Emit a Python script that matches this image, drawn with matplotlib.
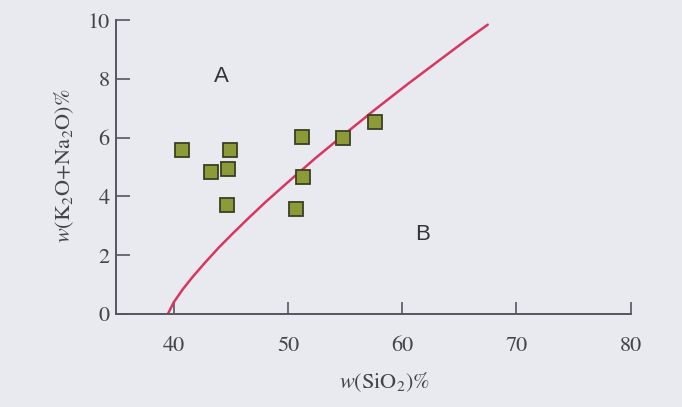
import matplotlib
matplotlib.use("Agg")
from matplotlib import pyplot as plt

# sample points: SiO2 vs K2O+Na2O
sio2 = [40.7, 44.9, 43.3, 44.8, 44.7, 51.2, 51.3, 50.7, 54.8, 57.6]
alk = [5.58, 5.58, 4.85, 4.94, 3.70, 6.03, 4.65, 3.58, 6.00, 6.54]

# dividing curve
curve_x = [39.5, 40.0, 40.8, 41.7, 42.8, 44.0, 45.2, 46.6, 48.1, 50.1,
           52.4, 54.8, 57.6, 60.5, 63.1, 65.5, 67.5]
curve_y = [0.0, 0.39, 0.84, 1.28, 1.77, 2.28, 2.75, 3.28, 3.83, 4.52,
           5.30, 6.07, 6.95, 7.83, 8.59, 9.29, 9.85]

xticks = [40, 50, 60, 70, 80]
yticks = [0, 2, 4, 6, 8, 10]

bg = "#e9eaf0"
axcol = "#55565e"
txtcol = "#444448"
plt.rcParams["mathtext.fontset"] = "stix"

fig = plt.figure(figsize=(6.82, 4.07), dpi=100, facecolor=bg)
ax = fig.add_axes([0.1708, 0.2285, 0.7588, 0.729])
ax.set_facecolor(bg)

ax.plot(curve_x, curve_y, color="#d9365f", lw=1.8, solid_capstyle="round",
        solid_joinstyle="round", zorder=2)
ax.plot(sio2, alk, ls="none", marker="s", ms=9.5, mfc="#8c9b38",
        mec="#3b3f22", mew=1.3, zorder=3)

ax.text(44.15, 8.1, "A", fontsize=16, color="#333338", ha="center", va="center",
        family="Liberation Sans")
ax.text(61.75, 2.7, "B", fontsize=16, color="#333338", ha="center", va="center",
        family="Liberation Sans")

ax.set_xlim(35, 80.3)
ax.set_ylim(0, 10.1)
for s in ["top", "right"]:
    ax.spines[s].set_visible(False)
ax.spines["left"].set_bounds(0, 10)
ax.spines["bottom"].set_bounds(35, 80)
for s in ["left", "bottom"]:
    ax.spines[s].set_color(axcol)
    ax.spines[s].set_linewidth(1.4)

ax.set_xticks(xticks)
ax.set_yticks(yticks)
ax.tick_params(axis="x", direction="in", length=9, width=1.2, color=axcol,
               pad=16, labelsize=16, labelcolor=txtcol)
ax.tick_params(axis="y", direction="in", length=10, width=1.2, color=axcol,
               pad=5, labelsize=16, labelcolor=txtcol)
for lab in ax.get_xticklabels() + ax.get_yticklabels():
    lab.set_family("STIXGeneral")

ax.set_xlabel(r"$w(\mathrm{SiO_2})\%$", fontsize=16, color=txtcol, labelpad=11)
ax.xaxis.set_label_coords(0.517, -0.19)
ax.set_ylabel(r"$w(\mathrm{K_2O{+}Na_2O})\%$", fontsize=16, color=txtcol, labelpad=8)

fig.savefig("out.png", dpi=100, facecolor=bg)
